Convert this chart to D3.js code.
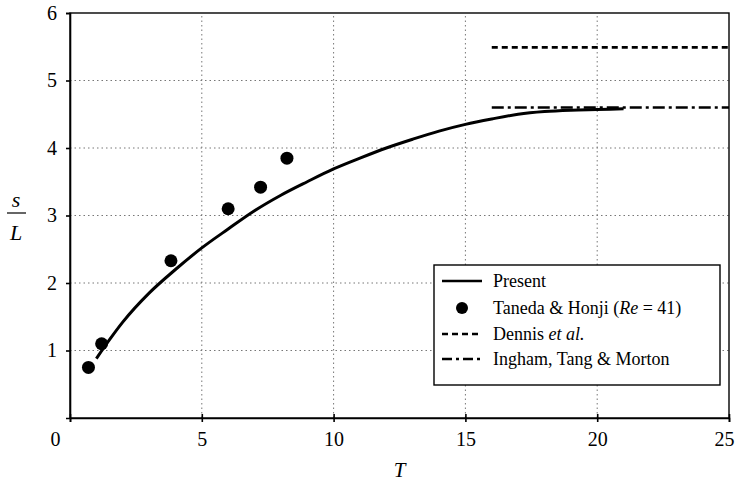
<!DOCTYPE html>
<meta charset="utf-8">
<style>
    body { margin: 0; background: #fff; }
    .grid line { stroke: #777; stroke-width: 1px; stroke-dasharray: 1.5, 3; }
    .axis path, .axis line { stroke: #000; stroke-width: 1.6px; }
    .axis text { font-size: 20px; fill: #000; }
    .legend text { font-size: 18px; fill: #000; }
</style>

<body>
    <script src="https://d3js.org/d3.v7.min.js"></script>
    <script>
        var serif = "'Liberation Serif', 'Times New Roman', Times, 'DejaVu Serif', 'Noto Serif', serif";

        // Present computation, s/L against T
        var presentT = [1.0, 1.5, 2, 3, 4, 5, 6, 7, 8, 9, 10, 11, 12, 13, 14, 15, 16, 17, 18, 19, 20, 21];
        var presentS = [0.88, 1.16, 1.42, 1.85, 2.2, 2.52, 2.8, 3.07, 3.3, 3.5, 3.69, 3.85, 4.0, 4.13, 4.25, 4.35, 4.43, 4.5, 4.54, 4.56, 4.57, 4.58];
        // Taneda & Honji experiment
        var tanedaT = [0.7, 1.2, 3.83, 6.0, 7.23, 8.23];
        var tanedaS = [0.75, 1.1, 2.33, 3.1, 3.42, 3.85];
        // steady state values
        var dennisT = [16, 25], dennisS = [5.49, 5.49];
        var inghamT = [16, 25], inghamS = [4.6, 4.6];

        var xTicks = [0, 5, 10, 15, 20, 25];
        var yTicks = [1, 2, 3, 4, 5, 6];
        var legendLabels = ["Present", "Taneda & Honji", "Dennis", "Ingham, Tang & Morton"];

        var width = 739, height = 484;
        var margin = { top: 13, right: 10, bottom: 66, left: 70 };

        var x = d3.scaleLinear().domain([0, 25]).range([margin.left, width - margin.right]);
        var y = d3.scaleLinear().domain([0, 6]).range([height - margin.bottom, margin.top]);

        var svg = d3.select("body").append("svg")
            .attr("width", width)
            .attr("height", height)
            .attr("font-family", serif);

        // dotted grid
        var grid = svg.append("g").attr("class", "grid");
        grid.selectAll(".gx")
            .data(xTicks.slice(1, -1))
            .enter().append("line")
            .attr("x1", d => x(d)).attr("x2", d => x(d))
            .attr("y1", y(0)).attr("y2", y(6));
        grid.selectAll(".gy")
            .data(yTicks.slice(0, -1))
            .enter().append("line")
            .attr("x1", x(0)).attr("x2", x(25))
            .attr("y1", d => y(d)).attr("y2", d => y(d));

        // frame top & right
        svg.append("rect")
            .attr("x", x(0)).attr("y", y(6))
            .attr("width", x(25) - x(0)).attr("height", y(0) - y(6))
            .attr("fill", "none").attr("stroke", "#000").attr("stroke-width", 1.4);

        var xAxis = svg.append("g")
            .attr("class", "axis")
            .attr("transform", "translate(0," + y(0) + ")")
            .call(d3.axisBottom(x).tickValues(xTicks).tickSize(4).tickPadding(10).tickFormat(d3.format("d")));
        xAxis.attr("font-family", serif);
        xAxis.selectAll(".tick line").attr("y1", -4);
        // the corner zero sits off to the left, last label nudged in
        xAxis.selectAll(".tick text").filter(d => d === 0).attr("dx", -15);
        xAxis.selectAll(".tick text").filter(d => d === 25).attr("dx", -5);

        var yAxis = svg.append("g")
            .attr("class", "axis")
            .attr("transform", "translate(" + x(0) + ",0)")
            .call(d3.axisLeft(y).tickValues(yTicks).tickSize(4).tickPadding(9).tickFormat(d3.format("d")));
        yAxis.attr("font-family", serif);

        // axis titles
        svg.append("text")
            .attr("x", x(12.5)).attr("y", 477)
            .attr("text-anchor", "middle")
            .style("font-size", "21px").style("font-style", "italic")
            .text("T");
        svg.append("text")
            .attr("x", 16).attr("y", 207)
            .attr("text-anchor", "middle")
            .style("font-size", "22px").style("font-style", "italic")
            .text("s");
        svg.append("line")
            .attr("x1", 7).attr("x2", 26).attr("y1", 213).attr("y2", 213)
            .attr("stroke", "#000").attr("stroke-width", 1.2);
        svg.append("text")
            .attr("x", 16).attr("y", 240)
            .attr("text-anchor", "middle")
            .style("font-size", "22px").style("font-style", "italic")
            .text("L");

        var line = d3.line()
            .x(d => x(d[0]))
            .y(d => y(d[1]))
            .curve(d3.curveMonotoneX);

        svg.append("path")
            .datum(d3.zip(dennisT, dennisS))
            .attr("d", line)
            .attr("fill", "none").attr("stroke", "#000")
            .attr("stroke-width", 2.8).attr("stroke-dasharray", "6,4");

        svg.append("path")
            .datum(d3.zip(inghamT, inghamS))
            .attr("d", line)
            .attr("fill", "none").attr("stroke", "#000")
            .attr("stroke-width", 2.5).attr("stroke-dasharray", "12,4,3,4");

        svg.append("path")
            .datum(d3.zip(presentT, presentS))
            .attr("d", line)
            .attr("fill", "none").attr("stroke", "#000")
            .attr("stroke-width", 3);

        svg.append("g")
            .selectAll("circle")
            .data(d3.zip(tanedaT, tanedaS))
            .enter().append("circle")
            .attr("cx", d => x(d[0]))
            .attr("cy", d => y(d[1]))
            .attr("r", 6.5)
            .attr("fill", "#000");

        // legend
        var legend = svg.append("g").attr("class", "legend");
        legend.append("rect")
            .attr("x", 434).attr("y", 265)
            .attr("width", 286).attr("height", 120)
            .attr("fill", "#fff").attr("stroke", "#000").attr("stroke-width", 1.4);

        var rowY = [281, 308, 334, 359];
        var sx1 = 442, sx2 = 482, tx = 493;

        legend.append("line").attr("x1", sx1).attr("x2", sx2).attr("y1", rowY[0]).attr("y2", rowY[0])
            .attr("stroke", "#000").attr("stroke-width", 2.5);
        legend.append("circle").attr("cx", (sx1 + sx2) / 2).attr("cy", rowY[1]).attr("r", 6).attr("fill", "#000");
        legend.append("line").attr("x1", sx1).attr("x2", sx2).attr("y1", rowY[2]).attr("y2", rowY[2])
            .attr("stroke", "#000").attr("stroke-width", 2.5).attr("stroke-dasharray", "6,4");
        legend.append("line").attr("x1", sx1).attr("x2", sx2).attr("y1", rowY[3]).attr("y2", rowY[3])
            .attr("stroke", "#000").attr("stroke-width", 2.5).attr("stroke-dasharray", "10,4,3,4");

        legend.append("text").attr("x", tx).attr("y", rowY[0] + 6).text(legendLabels[0]);
        var t1 = legend.append("text").attr("x", tx).attr("y", rowY[1] + 6);
        t1.append("tspan").text(legendLabels[1] + " (");
        t1.append("tspan").style("font-style", "italic").text("Re");
        t1.append("tspan").text(" = 41)");
        var t2 = legend.append("text").attr("x", tx).attr("y", rowY[2] + 6);
        t2.append("tspan").text(legendLabels[2] + " ");
        t2.append("tspan").style("font-style", "italic").text("et al.");
        legend.append("text").attr("x", tx).attr("y", rowY[3] + 6).text(legendLabels[3]);
    </script>
</body>
